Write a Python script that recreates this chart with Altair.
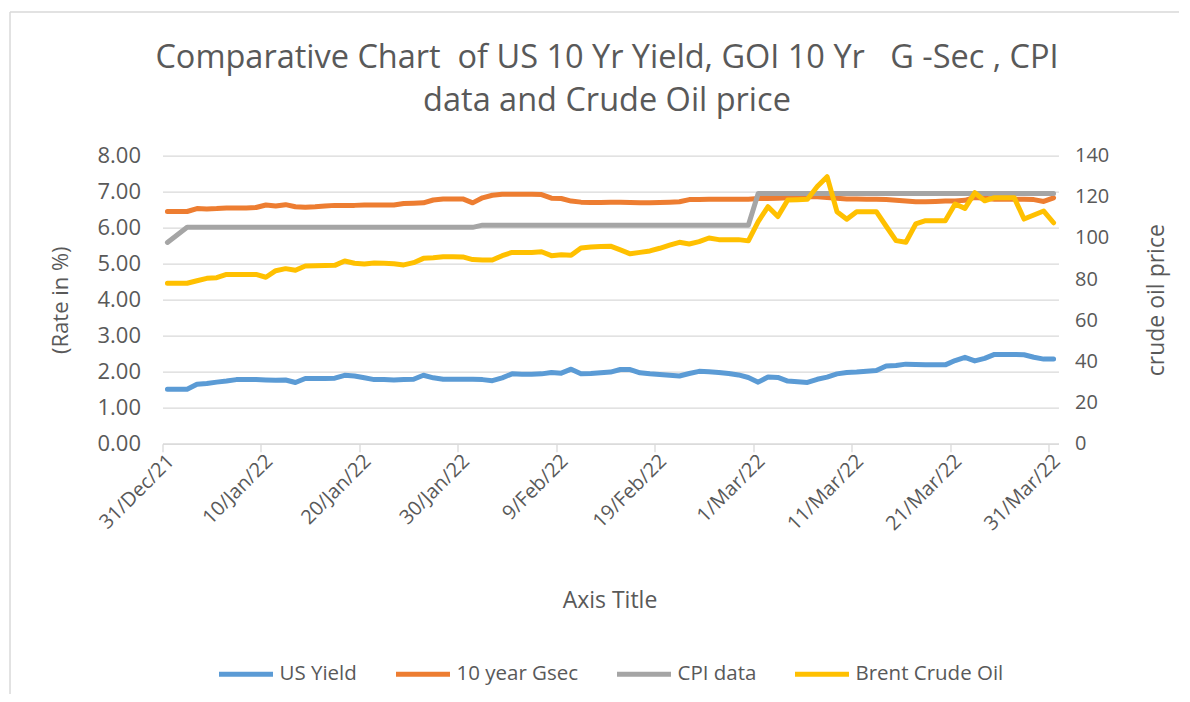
import altair as alt
import pandas as pd

# ---------------- data ----------------
dates = [d.strftime("%Y-%m-%dT12:00:00") for d in pd.date_range("2021-12-31", "2022-03-31", freq="D")]

us_yield = [1.51, 1.51, 1.51, 1.65, 1.67, 1.71, 1.74, 1.78, 1.78, 1.78,
            1.77, 1.76, 1.77, 1.70, 1.81, 1.81, 1.81, 1.82, 1.90, 1.88,
            1.83, 1.78, 1.78, 1.77, 1.78, 1.79, 1.90, 1.83, 1.79, 1.79,
            1.79, 1.79, 1.78, 1.75, 1.83, 1.94, 1.93, 1.93, 1.94, 1.98,
            1.96, 2.07, 1.94, 1.95, 1.97, 1.99, 2.06, 2.06, 1.97, 1.94,
            1.92, 1.90, 1.88, 1.95, 2.01, 2.00, 1.98, 1.95, 1.91, 1.84,
            1.71, 1.85, 1.84, 1.74, 1.72, 1.70, 1.79, 1.85, 1.94, 1.98,
            1.99, 2.01, 2.03, 2.16, 2.17, 2.21, 2.20, 2.19, 2.19, 2.19,
            2.31, 2.40, 2.30, 2.37, 2.48, 2.48, 2.48, 2.47, 2.40, 2.35,
            2.35]

gsec = [6.45, 6.45, 6.45, 6.53, 6.52, 6.53, 6.55, 6.55, 6.55, 6.56,
        6.63, 6.60, 6.64, 6.58, 6.57, 6.58, 6.60, 6.62, 6.62, 6.62,
        6.63, 6.63, 6.63, 6.63, 6.67, 6.68, 6.69, 6.77, 6.80, 6.80,
        6.80, 6.69, 6.83, 6.90, 6.93, 6.93, 6.93, 6.93, 6.92, 6.82,
        6.81, 6.74, 6.71, 6.70, 6.70, 6.71, 6.71, 6.70, 6.69, 6.69,
        6.70, 6.71, 6.72, 6.78, 6.785, 6.79, 6.79, 6.79, 6.79, 6.79,
        6.81, 6.81, 6.82, 6.83, 6.84, 6.86, 6.86, 6.84, 6.82, 6.80,
        6.80, 6.79, 6.79, 6.78, 6.76, 6.74, 6.72, 6.72, 6.73, 6.74,
        6.74, 6.76, 6.84, 6.82, 6.79, 6.79, 6.79, 6.79, 6.78, 6.73,
        6.83]

cpi = [5.59, None, 6.01, 6.01, 6.01, 6.01, 6.01, 6.01, 6.01, 6.01,
       6.01, 6.01, 6.01, 6.01, 6.01, 6.01, 6.01, 6.01, 6.01, 6.01,
       6.01, 6.01, 6.01, 6.01, 6.01, 6.01, 6.01, 6.01, 6.01, 6.01,
       6.01, 6.01, 6.07, 6.07, 6.07, 6.07, 6.07, 6.07, 6.07, 6.07,
       6.07, 6.07, 6.07, 6.07, 6.07, 6.07, 6.07, 6.07, 6.07, 6.07,
       6.07, 6.07, 6.07, 6.07, 6.07, 6.07, 6.07, 6.07, 6.07, 6.07,
       6.95, 6.95, 6.95, 6.95, 6.95, 6.95, 6.95, 6.95, 6.95, 6.95,
       6.95, 6.95, 6.95, 6.95, 6.95, 6.95, 6.95, 6.95, 6.95, 6.95,
       6.95, 6.95, 6.95, 6.95, 6.95, 6.95, 6.95, 6.95, 6.95, 6.95,
       6.95]

brent = [78.0, 78.0, 78.0, 79.2, 80.4, 80.7, 82.3, 82.3, 82.3, 82.3,
         80.9, 84.1, 85.1, 84.3, 86.4, 86.5, 86.6, 86.7, 88.8, 87.7,
         87.3, 87.8, 87.7, 87.5, 86.9, 88.0, 90.1, 90.4, 90.9, 90.9,
         90.8, 89.5, 89.3, 89.3, 91.4, 93.0, 93.0, 93.0, 93.3, 91.4,
         91.9, 91.6, 95.1, 95.6, 95.8, 96.0, 94.2, 92.3, 93.0, 93.7,
         95.0, 96.5, 97.9, 97.1, 98.2, 100.0, 99.2, 99.2, 99.2, 98.6,
         108.0, 115.2, 110.4, 118.5, 118.6, 118.8, 125.0, 129.8, 112.8, 109.1,
         112.8, 112.8, 112.8, 105.7, 98.7, 97.9, 106.8, 108.4, 108.4, 108.4,
         116.5, 114.4, 122.0, 118.1, 119.6, 119.6, 119.6, 109.2, 111.2, 113.1,
         107.4]

series_names = ["US Yield", "10 year Gsec", "CPI data", "Brent Crude Oil"]
series_colors = ["#5B9BD5", "#ED7D31", "#A5A5A5", "#FFC000"]
left_ticks = [0, 1, 2, 3, 4, 5, 6, 7, 8]
right_ticks = [0, 20, 40, 60, 80, 100, 120, 140]
tick_dates = ["2021-12-31", "2022-01-10", "2022-01-20", "2022-01-30", "2022-02-09",
              "2022-02-19", "2022-03-01", "2022-03-11", "2022-03-21", "2022-03-31"]

title_line1 = "Comparative Chart\u00a0 of US 10 Yr Yield, GOI 10 Yr\u00a0\u00a0 G -Sec , CPI"
title_line2 = "data and Crude Oil price"


def frame(values, name):
    rows = [{"date": d, "value": v, "series": name} for d, v in zip(dates, values) if v is not None]
    return pd.DataFrame(rows)


FONT = "Open Sans"
TXT = "#595959"
GRID = "#D9D9D9"

color = alt.Color("series:N",
                  scale=alt.Scale(domain=series_names, range=series_colors),
                  legend=alt.Legend(title=None, orient="none", direction="horizontal",
                                    legendX=54, legendY=489,
                                    symbolType="stroke", symbolSize=2916, symbolStrokeWidth=5,
                                    labelFontSize=20.5, labelFont=FONT, labelColor=TXT,
                                    labelOffset=4, columnPadding=28))


def tdt(s):
    y, m, d = [int(p) for p in s.split("-")]
    return alt.DateTime(year=y, month=m, date=d, hours=0)


x_enc = alt.X("date:T",
              scale=alt.Scale(domain=[tdt("2021-12-31"), tdt("2022-04-01")]),
              axis=alt.Axis(values=[tdt(s) for s in tick_dates], format="%-d/%b/%y",
                            labelAngle=-45, labelAlign="right", labelBaseline="middle",
                            labelPadding=6, labelOffset=8, labelFontSize=20,
                            grid=False, domain=True, domainColor=GRID, domainWidth=1.3,
                            ticks=True, tickColor=GRID, tickSize=8, tickWidth=1.3,
                            title="Axis Title", titleFontSize=23, titleX=447, titleY=157,
                            titleBaseline="middle", titleAlign="center"))

y_left = alt.Y("value:Q", scale=alt.Scale(domain=[0, 8]),
               axis=alt.Axis(values=left_ticks, format=".2f", orient="left",
                             domain=False, ticks=False, grid=True, gridColor=GRID, gridWidth=1.3,
                             labelPadding=22, labelFontSize=22,
                             title="(Rate in %)", titleFontSize=22, titleAngle=270,
                             titleX=-102, titleY=144, titleAlign="center", titleBaseline="middle"))

y_right = alt.Y("value:Q", scale=alt.Scale(domain=[0, 140]),
                axis=alt.Axis(values=right_ticks, format="d", orient="right",
                              domain=False, ticks=False, grid=False,
                              labelPadding=16, labelFontSize=20,
                              title="crude oil price", titleFontSize=23, titleAngle=270,
                              titleX=98, titleY=144, titleAlign="center", titleBaseline="middle"))

line_style = dict(strokeWidth=5, strokeCap="round", strokeJoin="round")

lines_left = [
    alt.Chart(frame(vals, name)).mark_line(**line_style).encode(x=x_enc, y=y_left, color=color)
    for vals, name in [(us_yield, "US Yield"), (gsec, "10 year Gsec"), (cpi, "CPI data")]
]
left = alt.layer(*lines_left)
right = alt.Chart(frame(brent, "Brent Crude Oil")).mark_line(**line_style).encode(
    x=x_enc, y=y_right, color=color)

border = alt.Chart(alt.Data(values=[{}])).mark_rule(color=GRID, strokeWidth=1.5)
border_left = border.encode(x=alt.value(-152.5), y=alt.value(-143.7), y2=alt.value(560))
border_top = border.encode(x=alt.value(-152.5), x2=alt.value(1040), y=alt.value(-143.7))

title_style = dict(font=FONT, fontSize=32.5, color=TXT, align="center", baseline="alphabetic")
title1 = alt.Chart(alt.Data(values=[{"t": title_line1}])).mark_text(**title_style).encode(
    text="t:N", x=alt.value(444.5), y=alt.value(-88))
title2 = alt.Chart(alt.Data(values=[{"t": title_line2}])).mark_text(**title_style).encode(
    text="t:N", x=alt.value(444.5), y=alt.value(-45))

chart = alt.layer(left, right, border_left, border_top, title1, title2).resolve_scale(
    y="independent").properties(
    width=896, height=288,
    autosize=alt.AutoSizeParams(type="none"),
    padding={"left": 154.5, "top": 147.7, "right": 120, "bottom": 250},
).configure_axis(
    labelFont=FONT, titleFont=FONT, labelColor=TXT, titleColor=TXT, titleFontWeight="normal"
).configure_view(stroke=None)

chart.save("out.html", embed_options={"renderer": "svg", "actions": False})
